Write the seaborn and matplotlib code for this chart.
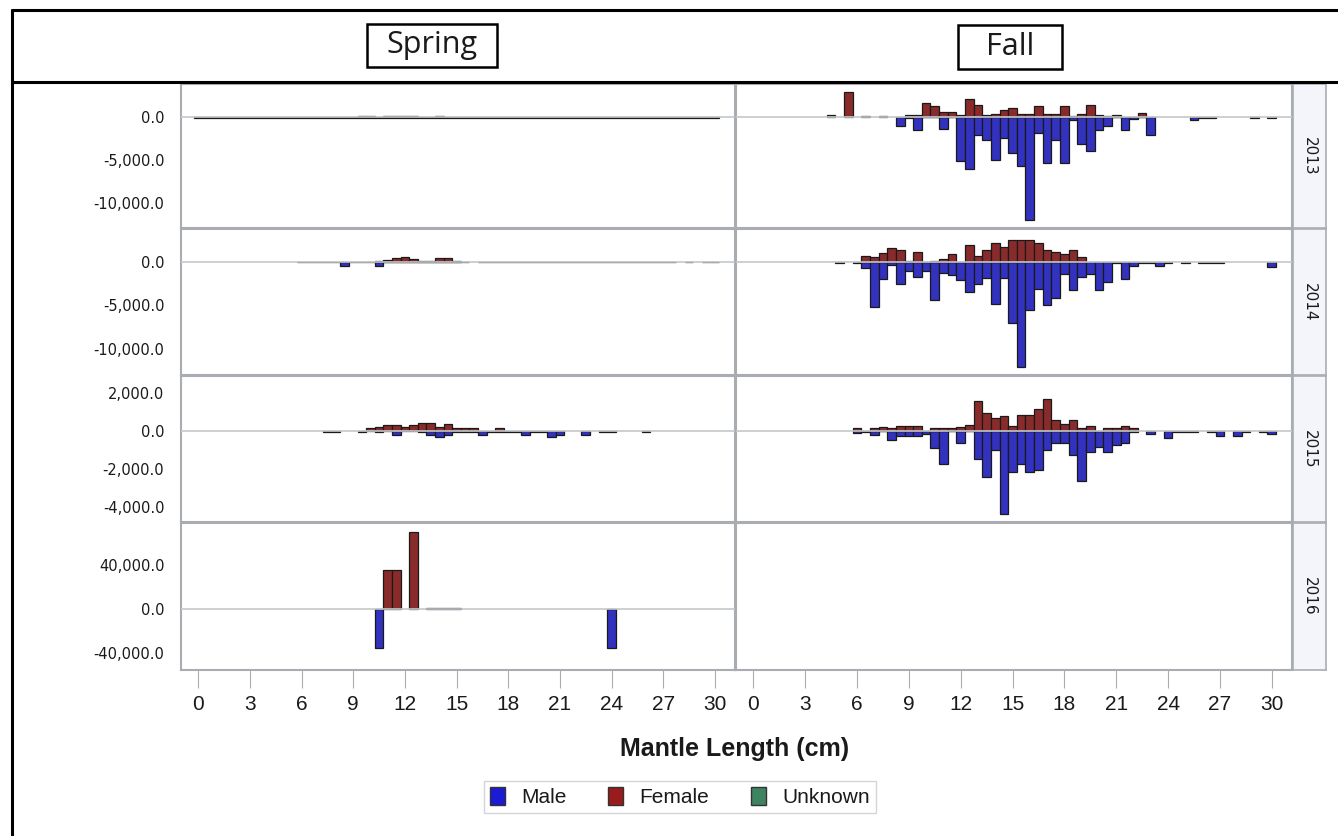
import numpy as np
import pandas as pd
import seaborn as sns
import matplotlib.pyplot as plt
from matplotlib.patches import Patch, Rectangle
from matplotlib.lines import Line2D

# ---------------- DATA ------------------
SEASONS = ["Spring", "Fall"]
YEARS = ["2013", "2014", "2015", "2016"]
SEXES = ["Male", "Female", "Unknown"]
X_TICKS = [0, 3, 6, 9, 12, 15, 18, 21, 24, 27, 30]

# counts per 0.5 cm mantle length bin, males are drawn below zero
# (tiny counts of ~60-80 only show up as a dash on the zero line)
spring_2013_bins = list(np.arange(0, 30.5, 0.5))
spring_2013_male = {b: 80 for b in spring_2013_bins}
spring_2013_female = {9.5: 150, 10.0: 150, 11.0: 150, 11.5: 150, 12.0: 150, 12.5: 150, 14.0: 150}

spring_2014_male = {b: 60 for b in np.arange(6.0, 28.0, 0.5) if b != 16.0}
spring_2014_male.update({8.5: 500, 10.5: 500, 28.5: 60, 29.5: 60, 30.0: 60})
spring_2014_female = {10.5: 150, 11.0: 230, 11.5: 420, 12.0: 610, 12.5: 345, 13.0: 100,
                      13.5: 100, 14.0: 420, 14.5: 420, 15.0: 150}

spring_2015_male = {7.5: 40, 8.0: 40, 9.5: 40, 10.5: 40, 11.5: 210, 13.0: 40, 13.5: 210, 14.0: 300,
                    14.5: 210, 15.0: 40, 15.5: 40, 16.0: 40, 16.5: 210, 17.0: 40, 17.5: 40,
                    18.0: 40, 18.5: 40, 19.0: 210, 19.5: 40, 20.0: 40, 20.5: 300, 21.0: 210,
                    22.5: 210, 23.5: 40, 24.0: 40, 26.0: 40}
spring_2015_female = {10.0: 140, 10.5: 230, 11.0: 320, 11.5: 320, 12.0: 190, 12.5: 320, 13.0: 400,
                      13.5: 400, 14.0: 190, 14.5: 390, 15.0: 140, 15.5: 140, 16.0: 140, 17.5: 140}

spring_2016_male = {10.5: 35000, 24.0: 35000}
spring_2016_female = {11.0: 35800, 11.5: 35800, 12.5: 69700, 13.5: 1200, 14.0: 1200,
                      14.5: 1200, 15.0: 1200}

fall_2013_male = {8.5: 1080, 9.0: 60, 9.5: 1470, 10.0: 0, 10.5: 0, 11.0: 1430, 11.5: 0, 12.0: 5150,
                  12.5: 6010, 13.0: 2050, 13.5: 2710, 14.0: 4960, 14.5: 2400, 15.0: 4150,
                  15.5: 5700, 16.0: 11940, 16.5: 1860, 17.0: 5350, 17.5: 2710, 18.0: 5350,
                  18.5: 310, 19.0: 3100, 19.5: 3950, 20.0: 1470, 20.5: 1080, 21.0: 0, 21.5: 1470,
                  22.0: 270, 22.5: 0, 23.0: 2090, 25.5: 390, 26.0: 150, 26.5: 150, 29.0: 150,
                  30.0: 150}
fall_2013_female = {4.5: 200, 5.5: 2900, 6.5: 150, 7.5: 150, 9.0: 200, 9.5: 200, 10.0: 1670,
                    10.5: 1240, 11.0: 580, 11.5: 580, 12.0: 270, 12.5: 2090, 13.0: 1430, 13.5: 270,
                    14.0: 390, 14.5: 810, 15.0: 1050, 15.5: 390, 16.0: 390, 16.5: 1240, 17.0: 390,
                    17.5: 390, 18.0: 1240, 18.5: 100, 19.0: 390, 19.5: 1430, 20.0: 230, 20.5: 150,
                    21.0: 230, 21.5: 0, 22.0: 0, 22.5: 465}

fall_2014_male = {5.0: 100, 6.0: 100, 6.5: 690, 7.0: 5210, 7.5: 1950, 8.0: 300, 8.5: 2530,
                  9.0: 1070, 9.5: 1690, 10.0: 1070, 10.5: 4330, 11.0: 1230, 11.5: 1490, 12.0: 2110,
                  12.5: 3490, 13.0: 2530, 13.5: 1840, 14.0: 4790, 14.5: 1840, 15.0: 7010,
                  15.5: 12100, 16.0: 5550, 16.5: 3100, 17.0: 4980, 17.5: 4140, 18.0: 1380,
                  18.5: 3180, 19.0: 1690, 19.5: 1340, 20.0: 3180, 20.5: 2300, 21.0: 100, 21.5: 1920,
                  22.0: 500, 22.5: 100, 23.0: 100, 23.5: 460, 24.0: 100, 25.0: 100, 26.0: 100,
                  26.5: 100, 27.0: 100, 30.0: 540}
fall_2014_female = {6.5: 690, 7.0: 610, 7.5: 1000, 8.0: 1570, 8.5: 1340, 9.0: 100, 9.5: 1150,
                    10.0: 0, 10.5: 100, 11.0: 350, 11.5: 960, 12.0: 0, 12.5: 1990, 13.0: 730,
                    13.5: 1340, 14.0: 2180, 14.5: 1720, 15.0: 2570, 15.5: 2570, 16.0: 2570,
                    16.5: 2180, 17.0: 1340, 17.5: 1150, 18.0: 920, 18.5: 1340, 19.0: 540}

fall_2015_male = {6.0: 90, 6.5: 60, 7.0: 190, 7.5: 0, 8.0: 470, 8.5: 245, 9.0: 245, 9.5: 245,
                  10.0: 160, 10.5: 910, 11.0: 1750, 11.5: 0, 12.0: 650, 12.5: 0, 13.0: 1490,
                  13.5: 2400, 14.0: 1020, 14.5: 4390, 15.0: 2140, 15.5: 1750, 16.0: 2140,
                  16.5: 2050, 17.0: 1020, 17.5: 650, 18.0: 650, 18.5: 1280, 19.0: 2610, 19.5: 1120,
                  20.0: 820, 20.5: 1100, 21.0: 740, 21.5: 630, 22.0: 60, 23.0: 175, 24.0: 350,
                  24.5: 60, 25.0: 60, 25.5: 60, 26.5: 60, 27.0: 260, 28.0: 260, 28.5: 60,
                  29.5: 60, 30.0: 175}
fall_2015_female = {6.0: 140, 6.5: 0, 7.0: 140, 7.5: 230, 8.0: 140, 8.5: 280, 9.0: 280, 9.5: 280,
                    10.0: 0, 10.5: 140, 11.0: 140, 11.5: 140, 12.0: 230, 12.5: 320, 13.0: 1600,
                    13.5: 930, 14.0: 670, 14.5: 770, 15.0: 280, 15.5: 840, 16.0: 840, 16.5: 1140,
                    17.0: 1680, 17.5: 560, 18.0: 370, 18.5: 580, 19.0: 140, 19.5: 280, 20.0: 0,
                    20.5: 140, 21.0: 140, 21.5: 280, 22.0: 140}

fall_2016_male = {}
fall_2016_female = {}

PANELS = {
    ("Spring", "2013"): (spring_2013_male, spring_2013_female),
    ("Spring", "2014"): (spring_2014_male, spring_2014_female),
    ("Spring", "2015"): (spring_2015_male, spring_2015_female),
    ("Spring", "2016"): (spring_2016_male, spring_2016_female),
    ("Fall", "2013"): (fall_2013_male, fall_2013_female),
    ("Fall", "2014"): (fall_2014_male, fall_2014_female),
    ("Fall", "2015"): (fall_2015_male, fall_2015_female),
    ("Fall", "2016"): (fall_2016_male, fall_2016_female),
}

# ---------------- STYLE ------------------
COLORS = {"Male": "#1b1bd6", "Female": "#9a1b1b", "Unknown": "#3f8461"}
GRAY = "#a9adb1"
ROW_YLIM = [(-12900, 3840), (-12990, 3790), (-4790, 2895), (-55450, 78180)]
ROW_YTICKS = [[-10000, -5000, 0], [-10000, -5000, 0], [-4000, -2000, 0, 2000], [-40000, 0, 40000]]
ROW_PX = [(84, 228), (229, 375), (376, 522), (523, 670)]
COL_PX = [(181, 735), (736, 1292)]
STRIP_PX = (1293, 1326)
XLIM = (-1.0, 31.17)
ARIAL = ["Liberation Sans", "DejaVu Sans"]

sns.set_style("white")
plt.rcParams["font.family"] = ["DejaVu Sans"]
plt.rcParams["text.color"] = "#1a1a1a"
plt.rcParams["xtick.color"] = "#1a1a1a"
plt.rcParams["ytick.color"] = "#1a1a1a"

W, H = 1338, 836
fig = plt.figure(figsize=(W / 100, H / 100), dpi=100)


def px_box(x0, y0, x1, y1):
    return [x0 / W, 1 - y1 / H, (x1 - x0) / W, (y1 - y0) / H]


def panel_frame(male, female):
    rows = [(cm, "Male", -v) for cm, v in male.items()]
    rows += [(cm, "Female", v) for cm, v in female.items()]
    return pd.DataFrame(rows, columns=["cm", "sex", "count"])


for r, year in enumerate(YEARS):
    y0, y1 = ROW_PX[r]
    for c, season in enumerate(SEASONS):
        x0, x1 = COL_PX[c]
        ax = fig.add_axes(px_box(x0, y0, x1, y1))
        male, female = PANELS[(season, year)]
        df = panel_frame(male, female)
        if len(df):
            sns.barplot(data=df, x="cm", y="count", hue="sex", hue_order=["Male", "Female"],
                        palette=COLORS, native_scale=True, dodge=False, width=1.0,
                        errorbar=None, edgecolor="#1a1a1a", linewidth=0.9, legend=False, ax=ax)
            ax.axhline(0, color="#c4c8cc", lw=1.2, zorder=5)
        ax.set_xlim(*XLIM)
        ax.set_ylim(*ROW_YLIM[r])
        ax.set_xlabel("")
        ax.set_ylabel("")
        for s in ax.spines.values():
            s.set_color(GRAY)
            s.set_linewidth(1.5)
        ax.set_xticks(X_TICKS)
        if r == len(YEARS) - 1:
            ax.tick_params(axis="x", bottom=True, length=13, width=0.8, color=GRAY, pad=5)
            ax.set_xticklabels([str(t) for t in X_TICKS], family=ARIAL, fontsize=15)
        else:
            ax.tick_params(axis="x", bottom=False, labelbottom=False)
        ax.set_yticks(ROW_YTICKS[r])
        if c == 0:
            ax.set_yticklabels([f"{t:,.1f}" for t in ROW_YTICKS[r]], fontsize=10.5)
            ax.tick_params(axis="y", length=0, pad=12)
        else:
            ax.tick_params(axis="y", length=0, labelleft=False)

    # year strip on the right
    sax = fig.add_axes(px_box(STRIP_PX[0], y0, STRIP_PX[1], y1))
    sax.set_facecolor("#f4f5fa")
    sax.set_xticks([])
    sax.set_yticks([])
    for s in sax.spines.values():
        s.set_color(GRAY)
        s.set_linewidth(1.2)
    sax.text(0.5, 0.5, year, rotation=270, ha="center", va="center", fontsize=11,
             transform=sax.transAxes)

# x axis title
fig.text(735 / W, 1 - 749 / H, "Mantle Length (cm)", ha="center", va="center",
         fontsize=18, fontweight="bold", family=ARIAL)

# legend
handles = [Patch(facecolor=COLORS[s], edgecolor="#333333", linewidth=1) for s in SEXES]
leg = fig.legend(handles, SEXES, loc="center", bbox_to_anchor=(680 / W, 1 - 797 / H), ncol=3,
                 frameon=True, fancybox=False, prop={"family": ARIAL, "size": 15},
                 handlelength=0.7, handleheight=1.0, handletextpad=0.8, columnspacing=2.0,
                 borderpad=0.3)
leg.get_frame().set_edgecolor("#c8cbcf")
leg.get_frame().set_linewidth(1.0)

# header band with season labels
for (xa, ya), (xb, yb) in [((12, 10), (W, 10)), ((12, 82), (W, 82)), ((12, 10), (12, H))]:
    fig.add_artist(Line2D([xa / W, xb / W], [1 - ya / H, 1 - yb / H], color="black", lw=2.2,
                          transform=fig.transFigure))
for label, (bx0, by0, bx1, by1) in zip(SEASONS, [(367, 24, 497, 67), (958, 25, 1062, 69)]):
    fig.add_artist(Rectangle((bx0 / W, 1 - by1 / H), (bx1 - bx0) / W, (by1 - by0) / H,
                             fill=False, edgecolor="black", lw=1.8, transform=fig.transFigure))
    fig.text((bx0 + bx1) / 2 / W, 1 - (by0 + by1) / 2 / H, label, ha="center", va="center",
             fontsize=22, family=["Open Sans", "DejaVu Sans"])

fig.savefig("out.png", dpi=100, facecolor="white")
plt.close(fig)
